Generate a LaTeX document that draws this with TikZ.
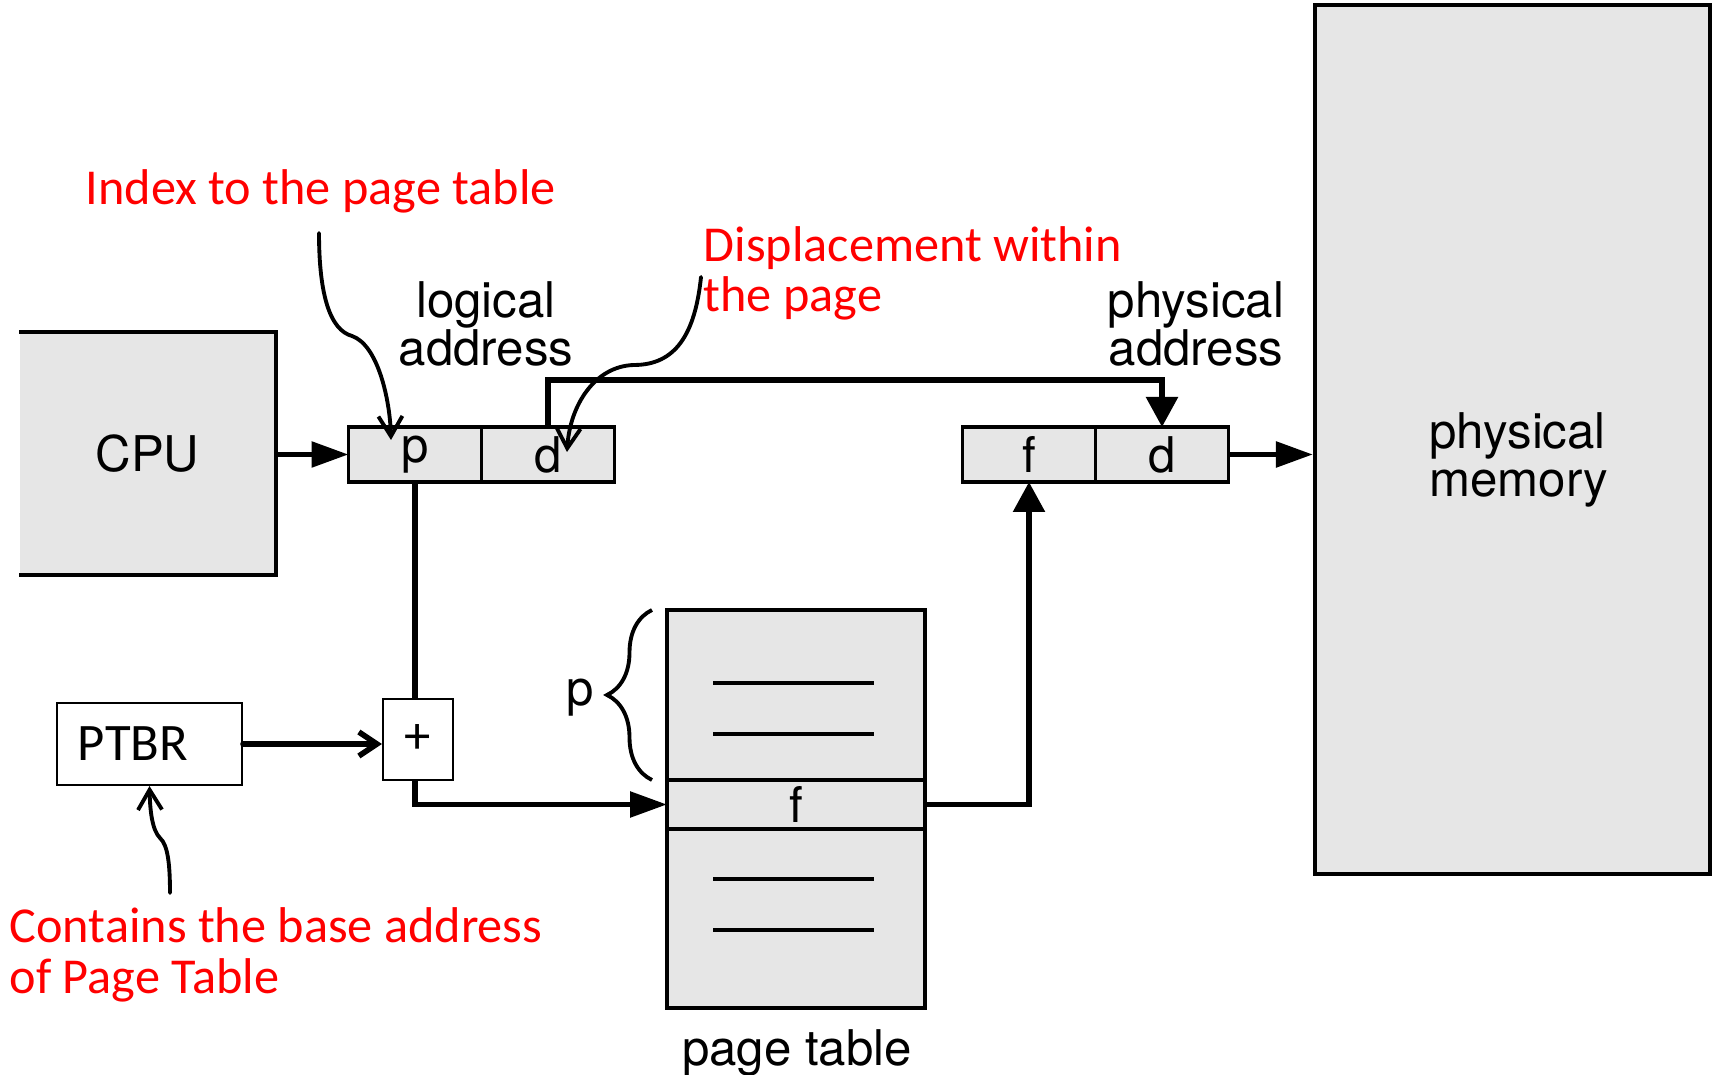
\documentclass[tikz,border=0pt]{standalone}
\usepackage{fontspec}
\setmainfont{TeX Gyre Heros}
\newfontfamily\notefont{Carlito}
\usetikzlibrary{arrows.meta, positioning, calc, decorations.pathreplacing}
\definecolor{boxgray}{RGB}{230,230,230}

\begin{document}
\begin{tikzpicture}[x=1cm, y=-1cm,
    reg/.style={rectangle, draw, fill=boxgray, line width=1.05pt, minimum width=1.33cm, minimum height=0.55cm, inner sep=0pt, outer sep=0pt, font=\fontsize{14}{14}\selectfont},
    ptrow/.style={rectangle, draw, fill=boxgray, line width=1.1pt, minimum width=2.58cm, inner sep=0pt, outer sep=0pt, font=\fontsize{14}{14}\selectfont},
    txt/.style={font=\fontsize{14}{13.7}\selectfont, align=center, inner sep=0pt},
    note/.style={font=\notefont\fontsize{14.3}{14.5}\selectfont, text=red, align=left, inner sep=0pt},
    harrow/.style={-{Triangle[length=3.7mm, width=2.5mm]}, line width=1.6pt},
    varrow/.style={-{Triangle[length=3mm, width=3.1mm]}, line width=1.6pt},
    wire/.style={line width=1.6pt},
    curly/.style={-{Straight Barb[length=2mm, width=2.4mm]}, line width=1.1pt, line cap=round},
]
\useasboundingbox (0,0) rectangle (17.12,10.75);

% CPU and physical memory
\node[fill=boxgray, minimum width=2.55cm, minimum height=2.41cm, inner sep=0pt, font=\fontsize{14}{14}\selectfont] (cpu) at (1.475,4.535) {CPU};
\draw[line width=1.05pt] (cpu.north west) -| (cpu.south east) -- (cpu.south west);
\node[rectangle, draw, fill=boxgray, line width=1.2pt, minimum width=3.95cm, minimum height=8.69cm] (mem) at (15.125,4.395) {};
\node[txt, align=left] (memtext) at (15.19,4.60) {physical\\memory};

% address registers
\node[reg] (lp) at (4.15,4.545) {p};
\node[reg, right=0pt of lp] (ld) {d};
\node[reg] (pf) at (10.29,4.545) {f};
\node[reg, right=0pt of pf] (pd) {d};
\node[txt] (logtext) at (4.86,3.24) {logical\\address};
\node[txt] (phystext) at (11.96,3.24) {physical\\address};

% PTBR and adder
\node[rectangle, draw, line width=0.6pt, minimum width=1.85cm, minimum height=0.82cm, text width=1.43cm, inner xsep=2.1mm, align=left, font=\notefont\fontsize{15}{15}\selectfont] (ptbr) at (1.495,7.44) {PTBR};
\node[rectangle, draw, line width=0.6pt, minimum width=0.70cm, minimum height=0.81cm, inner sep=0pt, font=\notefont\fontsize{15}{15}\selectfont] (plus) at (4.18,7.395) {\raisebox{-0.5mm}{+}};

% page table
\node[ptrow, minimum height=1.70cm] (pttop) at (7.96,6.95) {};
\node[ptrow, minimum height=0.49cm, below=0pt of pttop] (ptf) {f};
\node[ptrow, minimum height=1.79cm, below=0pt of ptf] (ptbot) {};
\foreach \y in {6.83,7.34,8.79,9.30}
    \draw[line width=1.1pt] (7.13,\y) -- (8.74,\y);
\node[txt] (pttext) at (7.97,10.53) {page table};
\draw[decorate, decoration={brace, amplitude=4.5mm}, line width=1.1pt] ($(pttop.south west)+(-0.15,0)$) -- ($(pttop.north west)+(-0.15,0)$);
\node[txt] (bracep) at (5.80,6.975) {p};

% data paths
\draw[harrow] (cpu.east |- lp.west) -- (lp.west);
\draw[wire] (lp.south) -- (lp.south |- plus.north);
\draw[wire, -{Straight Barb[length=1.8mm, width=2.4mm]}, line cap=round] (ptbr.east) -- (ptbr.east -| plus.west);
\draw[harrow] (lp.south |- plus.south) |- (ptf.west);
\draw[varrow] (ptf.east) -| (pf.south);
\draw[varrow] (ld.north) -- ++(0,-0.47) -| (pd.north);
\draw[harrow] (pd.east) -- (pd.east -| mem.west);

% notes
\node[note, anchor=base west] (idxnote) at (0.85,2.05) {Index to the page table};
\node[note, anchor=base west] (dispnote) at (7.03,3.12) {Displacement within\\the page};
\node[note, anchor=base west] (basenote) at (0.09,9.93) {Contains the base address\\of Page Table};
\coordinate (idxfrom) at (3.19,2.33);
\coordinate (dispfrom) at (7.01,2.77);
\coordinate (basefrom) at (1.70,8.93);
\draw[curly] (idxfrom) .. controls (3.19,2.95) and (3.30,3.30) .. (3.52,3.36) .. controls (3.78,3.45) and (3.90,4.0) .. ($(lp.north)+(-0.24,0.13)$);
\draw[curly] (dispfrom) .. controls (6.95,3.35) and (6.75,3.65) .. (6.34,3.65) .. controls (5.95,3.66) and (5.70,4.05) .. ($(ld.north)+(0.19,0.25)$);
\draw[curly] (basefrom) .. controls (1.70,8.65) and (1.68,8.45) .. (1.60,8.38) .. controls (1.52,8.30) and (1.50,8.1) .. (ptbr.south);

\end{tikzpicture}
\end{document}
